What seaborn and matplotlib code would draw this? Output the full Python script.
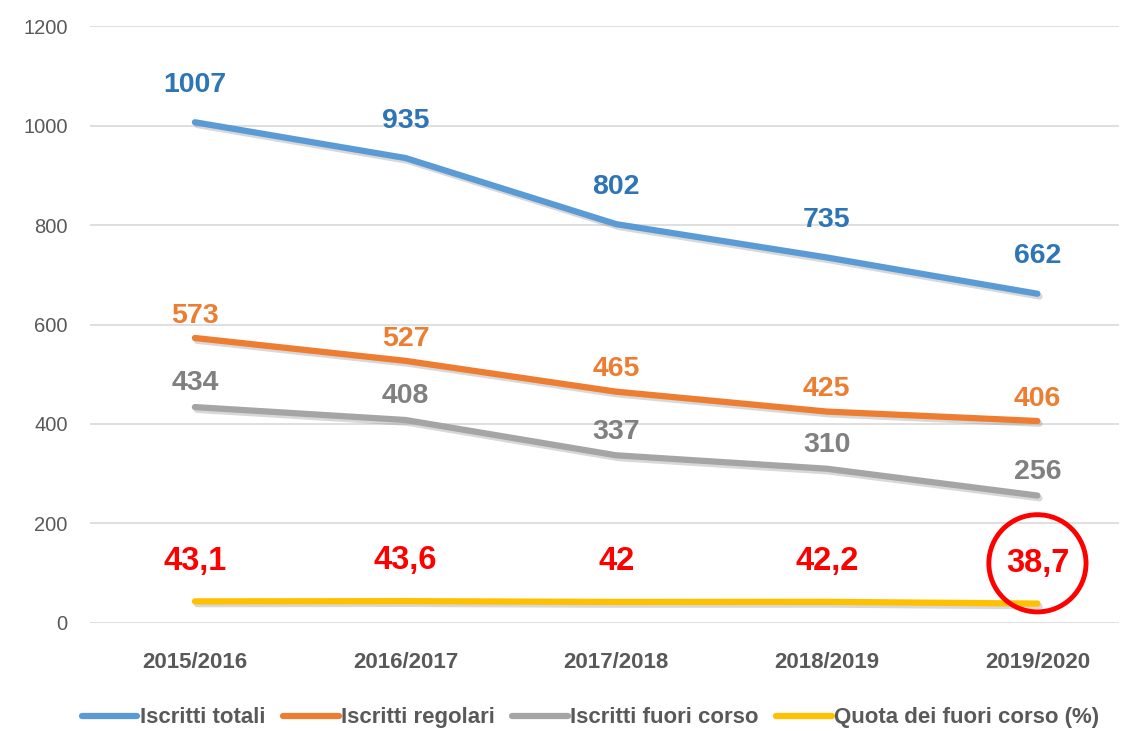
import matplotlib
matplotlib.use("Agg")
import matplotlib.pyplot as plt
import matplotlib.patheffects as pe
from matplotlib.lines import Line2D
import seaborn as sns
import pandas as pd

years = ["2015/2016", "2016/2017", "2017/2018", "2018/2019", "2019/2020"]
iscritti_totali = [1007, 935, 802, 735, 662]
iscritti_regolari = [573, 527, 465, 425, 406]
iscritti_fuori_corso = [434, 408, 337, 310, 256]
quota_fuori_corso = [43.1, 43.6, 42, 42.2, 38.7]
series_names = ["Iscritti totali", "Iscritti regolari", "Iscritti fuori corso",
                "Quota dei fuori corso (%)"]
y_ticks = [0, 200, 400, 600, 800, 1000, 1200]

line_colors = ["#5B9BD5", "#ED7D31", "#A5A5A5", "#FFC000"]
label_colors = ["#2E75B6", "#ED7D31", "#808080", "#FF0000"]
label_offsets = [27, 16, 17, 29]
label_sizes = [20.5, 20.5, 20.5, 23.5]

sns.set_theme(style="white")
plt.rcParams["font.family"] = ["Liberation Sans", "DejaVu Sans"]

all_series = [iscritti_totali, iscritti_regolari, iscritti_fuori_corso, quota_fuori_corso]
rows = []
for name, vals in zip(series_names, all_series):
    for i, v in enumerate(vals):
        rows.append({"x": i, "value": v, "serie": name})
df = pd.DataFrame(rows)

fig = plt.figure(figsize=(11.25, 7.31), dpi=100)
ax = fig.add_axes([0.08, 0.148, 0.915, 0.816])

sns.lineplot(data=df, x="x", y="value", hue="serie", hue_order=series_names,
             palette=line_colors, linewidth=4.5, sort=False, ax=ax, legend=False)

for line in ax.get_lines():
    line.set_solid_capstyle("round")
    line.set_path_effects([pe.SimpleLineShadow(offset=(1.5, -2), shadow_color="#808080", alpha=0.3),
                           pe.Normal()])

for k, vals in enumerate(all_series):
    for i, v in enumerate(vals):
        txt = f"{v:g}".replace(".", ",")
        kw = {}
        if k == 3 and i == len(vals) - 1:
            kw["bbox"] = dict(boxstyle="circle,pad=0.52", fc="none", ec="#FF0000", lw=3.5)
        ax.annotate(txt, (i, v), xytext=(0, label_offsets[k]), textcoords="offset points",
                    ha="center", va="center", fontsize=label_sizes[k], fontweight="bold",
                    color=label_colors[k], **kw)

ax.set_xlim(-0.498, 4.389)
ax.set_ylim(0, 1200)
ax.set_yticks(y_ticks)
ax.set_yticklabels([str(t) for t in y_ticks], fontsize=14.5, color="#595959")
ax.set_xticks(range(len(years)))
ax.set_xticklabels(years, fontsize=16, fontweight="bold", color="#595959")
ax.tick_params(axis="x", pad=21, length=0)
ax.tick_params(axis="y", pad=16, length=0)
ax.yaxis.grid(True, color="#D9D9D9", lw=1.2)
ax.set_axisbelow(True)
for s in ax.spines.values():
    s.set_visible(False)
ax.set_xlabel("")
ax.set_ylabel("")

handles = [Line2D([0], [0], color=c, lw=4.5, solid_capstyle="round") for c in line_colors]
fig.legend(handles, series_names, loc="center", bbox_to_anchor=(0.525, 0.018), ncol=4,
           frameon=False, prop={"size": 16, "weight": "bold"}, labelcolor="#595959",
           handlelength=2.5, handletextpad=0.1, columnspacing=0.8)

fig.savefig("out.png", dpi=100)
